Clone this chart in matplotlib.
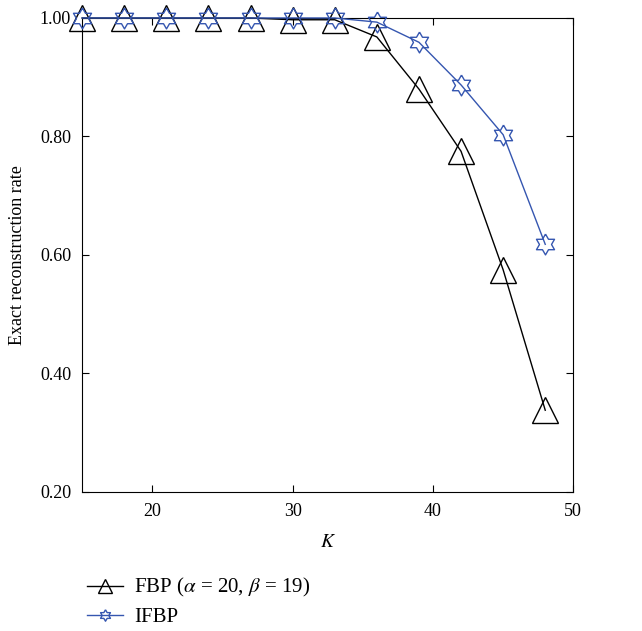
import numpy as np
import matplotlib
matplotlib.use("Agg")
import matplotlib.pyplot as plt

plt.rcParams["font.family"] = ["Liberation Serif", "DejaVu Serif"]
plt.rcParams["mathtext.fontset"] = "stix"

k_values = [15, 18, 21, 24, 27, 30, 33, 36, 39, 42, 45, 48]
fbp_rate = [1.0, 1.0, 1.0, 1.0, 1.0, 0.997, 0.997, 0.968, 0.88, 0.775, 0.575, 0.338]
ifbp_rate = [1.0, 1.0, 1.0, 1.0, 1.0, 1.0, 1.0, 0.993, 0.959, 0.887, 0.803, 0.618]

y_ticks = [0.20, 0.40, 0.60, 0.80, 1.00]
x_ticks = [20, 30, 40, 50]

# hexagram outline (star of David)
ang = np.deg2rad(np.arange(12) * 30 + 90)
rad = np.where(np.arange(12) % 2 == 0, 1.0, 1 / np.sqrt(3))
star = list(zip(rad * np.cos(ang), rad * np.sin(ang)))
star.append(star[0])

blue = "#3556b0"

fig = plt.figure(figsize=(6.42, 6.31), dpi=100)
ax = fig.add_axes([0.128, 0.2203, 0.765, 0.7512])

ax.plot(k_values, fbp_rate, color="black", lw=1.0, marker="^", ms=19,
        mfc="none", mec="black", mew=1.0, clip_on=False, zorder=3,
        label=r"FBP ($\alpha$ = 20, $\beta$ = 19)")
ax.plot(k_values, ifbp_rate, color=blue, lw=1.0, marker=star, ms=15,
        mfc="none", mec=blue, mew=1.0, clip_on=False, zorder=4,
        label="IFBP")

ax.set_xlim(15, 50)
ax.set_ylim(0.2, 1.0)
ax.set_xticks(x_ticks)
ax.set_yticks(y_ticks)
ax.set_yticklabels([f"{v:.2f}" for v in y_ticks])
ax.tick_params(direction="in", top=True, right=True, labelsize=13, length=5, pad=8)
ax.set_xlabel("$K$", fontsize=14, labelpad=10)
ax.set_ylabel("Exact reconstruction rate", fontsize=13, labelpad=10)

ax.legend(loc="upper left", bbox_to_anchor=(0.12, 0.103), bbox_transform=fig.transFigure,
          frameon=False, fontsize=15, markerscale=0.55, handlelength=1.7,
          handletextpad=0.55, labelspacing=0.4, borderpad=0)

fig.savefig("out.png", dpi=100)
